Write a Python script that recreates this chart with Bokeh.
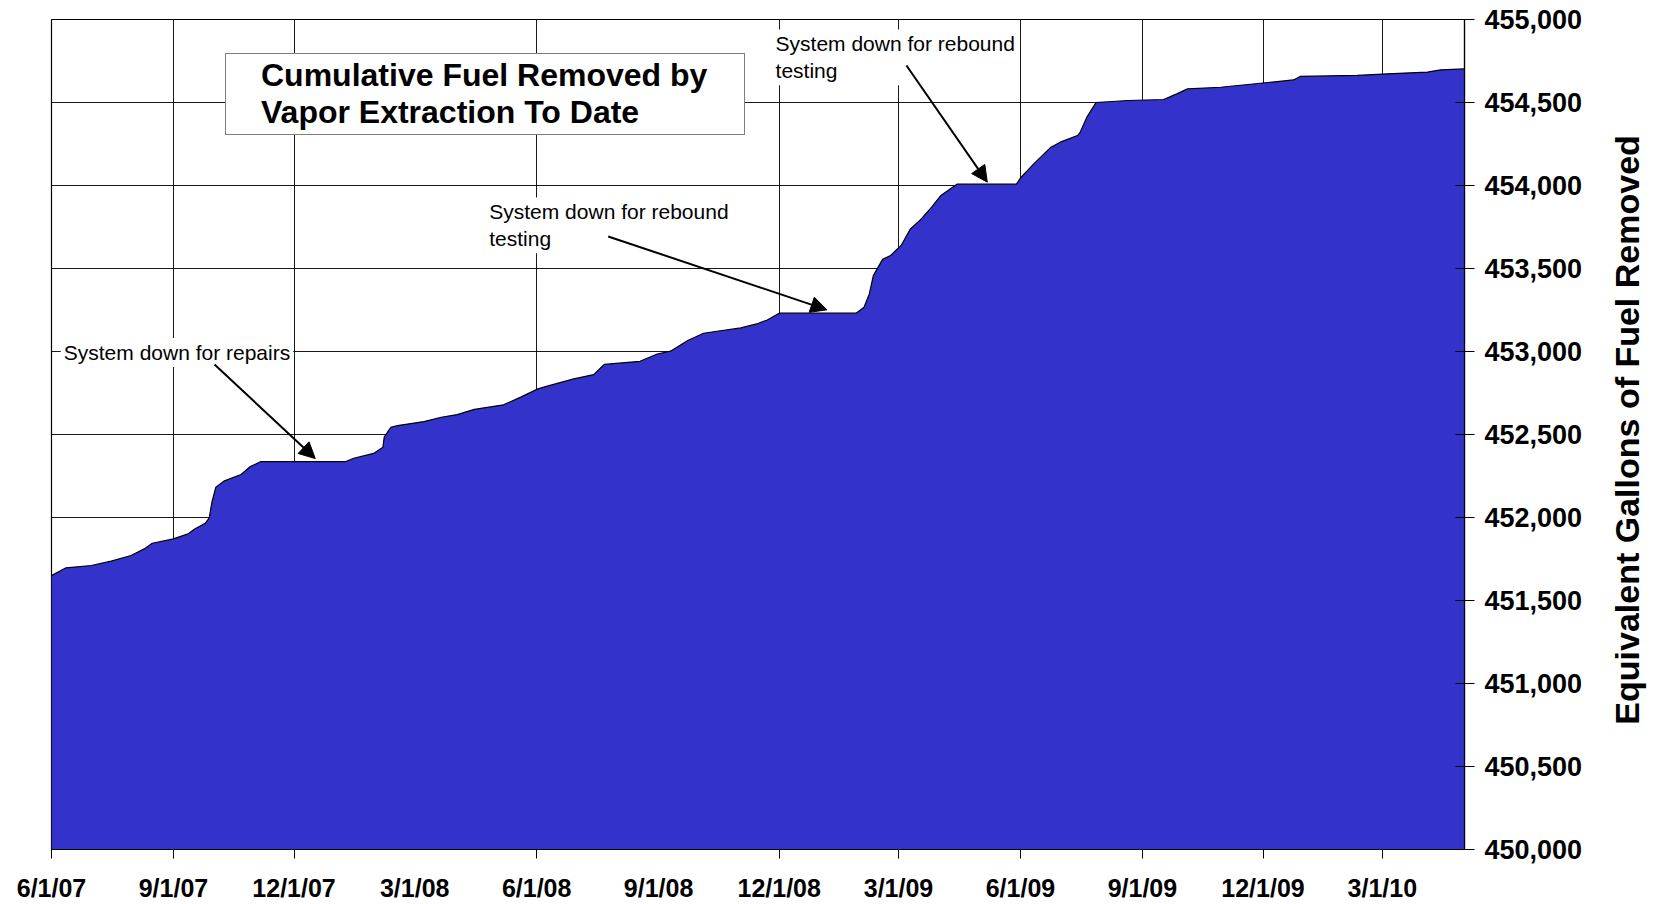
import math
import datetime as dt
import pandas as pd
from bokeh.plotting import figure
from bokeh.layouts import row
from bokeh.core.properties import value
from bokeh.models import (Range1d, FixedTicker, CustomJSTickFormatter, NumeralTickFormatter,
                          Label, Arrow, NormalHead, Legend, LegendItem)
from bokeh.embed import file_html
from bokeh.resources import INLINE

# ---------------- data ----------------
dates = [
    "2007-06-01", "2007-06-12", "2007-07-01", "2007-07-16", "2007-07-31", "2007-08-10",
    "2007-08-16", "2007-09-01", "2007-09-12", "2007-09-17", "2007-09-25", "2007-09-28",
    "2007-09-30", "2007-10-03", "2007-10-09", "2007-10-22", "2007-10-29", "2007-11-06",
    "2008-01-09", "2008-01-15", "2008-01-30", "2008-02-06", "2008-02-07", "2008-02-12",
    "2008-02-17", "2008-03-08", "2008-03-21", "2008-04-02", "2008-04-15", "2008-05-07",
    "2008-05-20", "2008-06-02", "2008-06-09", "2008-06-29", "2008-07-14", "2008-07-22",
    "2008-08-18", "2008-08-31", "2008-09-10", "2008-09-23", "2008-10-05", "2008-10-15",
    "2008-11-02", "2008-11-14", "2008-11-22", "2008-12-01", "2009-01-28", "2009-02-03",
    "2009-02-07", "2009-02-10", "2009-02-17", "2009-02-23", "2009-03-03", "2009-03-10",
    "2009-03-17", "2009-03-26", "2009-04-02", "2009-04-14", "2009-05-29", "2009-06-01",
    "2009-06-11", "2009-06-24", "2009-07-01", "2009-07-14", "2009-07-16", "2009-07-21",
    "2009-07-28", "2009-08-21", "2009-09-17", "2009-09-27", "2009-10-05", "2009-10-30",
    "2009-11-29", "2009-12-24", "2009-12-29", "2010-02-10", "2010-03-05", "2010-04-04",
    "2010-04-14", "2010-05-02",
]
gallons = [
    451650, 451697, 451711, 451737, 451771, 451811,
    451845, 451871, 451901, 451931, 451965, 451998,
    452092, 452183, 452219, 452259, 452307, 452337,
    452337, 452357, 452386, 452423, 452484, 452543,
    452554, 452578, 452604, 452620, 452651, 452679,
    452725, 452775, 452791, 452835, 452861, 452922,
    452941, 452985, 453002, 453066, 453110, 453122,
    453142, 453166, 453190, 453231, 453231, 453266,
    453347, 453457, 453555, 453578, 453639, 453739,
    453789, 453870, 453940, 454008, 454008, 454045,
    454130, 454231, 454261, 454301, 454320, 454410,
    454500, 454512, 454518, 454552, 454582, 454592,
    454616, 454636, 454657, 454663, 454673, 454683,
    454697, 454702,
]
label_dates = ["2007-06-01", "2007-09-01", "2007-12-01", "2008-03-01", "2008-06-01",
               "2008-09-01", "2008-12-01", "2009-03-01", "2009-06-01", "2009-09-01",
               "2009-12-01", "2010-03-01"]
grid_dates = ["2007-06-01", "2007-09-01", "2007-12-01", "2008-06-01", "2008-12-01",
              "2009-03-01", "2009-06-01", "2009-09-01", "2009-12-01", "2010-03-01"]
y_ticks = [450000, 450500, 451000, 451500, 452000, 452500, 453000, 453500, 454000, 454500, 455000]
legend_lines = ["Cumulative Fuel Removed by", "Vapor Extraction To Date"]
y_title = "Equivalent Gallons of Fuel Removed"

notes = [
    ("System down for repairs", "2007-06-08", 452994, "middle"),
    ("System down for rebound\ntesting", "2008-04-24", 453928, "top"),
    ("System down for rebound\ntesting", "2008-11-26", 454940, "top"),
]
arrows = [
    ("2007-10-02", 452922, "2007-12-17", 452355),
    ("2008-07-25", 453693, "2009-01-06", 453251),
    ("2009-03-07", 454723, "2009-05-07", 454020),
]


def ms(s):
    return dt.datetime.strptime(s, "%Y-%m-%d").replace(tzinfo=dt.timezone.utc).timestamp() * 1000


FONT = "Liberation Sans"
FILL = "#3333CC"

x = pd.to_datetime(dates)

p = figure(width=1595, height=904, x_axis_type="datetime", y_axis_location="right",
           output_backend="svg", toolbar_location=None,
           x_range=Range1d(dt.datetime(2007, 6, 1), dt.datetime(2010, 5, 2)),
           y_range=Range1d(450000, 455000),
           min_border_left=51, min_border_top=19, min_border_right=131, min_border_bottom=55)
p.background_fill_color = "white"
p.border_fill_color = "white"
p.outline_line_color = "black"
p.outline_line_width = 1.2

area = p.varea(x=x, y1=450000, y2=gallons, fill_color=FILL)
p.line(x=x, y=gallons, line_color="black", line_width=1.2)

# grids
p.xgrid[0].ticker = FixedTicker(ticks=[ms(d) for d in grid_dates])
p.ygrid[0].ticker = FixedTicker(ticks=y_ticks)
for g in (p.xgrid[0], p.ygrid[0]):
    g.grid_line_color = "black"
    g.grid_line_width = 1
    g.grid_line_alpha = 0.9

# x axis
xa = p.xaxis[0]
xa.ticker = FixedTicker(ticks=[ms(d) for d in label_dates], minor_ticks=[ms(d) for d in grid_dates])
xa.formatter = CustomJSTickFormatter(code="""
const d = new Date(tick);
return (d.getUTCMonth() + 1) + "/" + d.getUTCDate() + "/" + String(d.getUTCFullYear()).slice(2);
""")
xa.major_tick_out = 0
xa.major_tick_in = 0
xa.minor_tick_out = 9
xa.minor_tick_in = 0
xa.minor_tick_line_color = "black"
xa.axis_line_color = "black"
xa.axis_line_width = 1.2
xa.major_label_standoff = 15
xa.major_label_text_font = FONT
xa.major_label_text_font_size = "25px"
xa.major_label_text_font_style = "bold"
xa.major_label_text_color = "black"

# y axis (right)
ya = p.yaxis[0]
ya.ticker = FixedTicker(ticks=y_ticks)
ya.formatter = NumeralTickFormatter(format="0,0")
ya.minor_tick_line_color = None
ya.major_tick_in = 9
ya.major_tick_out = 10
ya.major_tick_line_color = "black"
ya.axis_line_color = "black"
ya.axis_line_width = 1.2
ya.major_label_standoff = 10
ya.major_label_text_font = FONT
ya.major_label_text_font_size = "27px"
ya.major_label_text_font_style = "bold"
ya.major_label_text_color = "black"

# legend (two lines; square only on first)
q1 = p.quad(left=[], right=[], top=[], bottom=[], fill_color=FILL, line_color="black", line_width=1)
q2 = p.quad(left=[], right=[], top=[], bottom=[], fill_alpha=0, line_alpha=0)
legend = Legend(items=[LegendItem(label=legend_lines[0], renderers=[q1]),
                       LegendItem(label=legend_lines[1], renderers=[q2])],
                location=(174, 714))
legend.label_text_font = FONT
legend.label_text_font_size = "32px"
legend.label_text_font_style = "bold"
legend.label_text_color = "black"
legend.glyph_width = 20
legend.glyph_height = 22
legend.label_standoff = 12
legend.label_height = 33
legend.label_width = 480
legend.spacing = 0
legend.padding = 3
legend.margin = 0
legend.border_line_color = "black"
legend.border_line_width = 1
legend.background_fill_color = "white"
legend.background_fill_alpha = 1
p.add_layout(legend)

# annotations
for text, d, v, base in notes:
    p.add_layout(Label(x=ms(d), y=v, text=text, text_font=FONT, text_font_size="21px",
                       text_color="black", text_baseline=base, text_align="left",
                       text_line_height=1.17, background_fill_color="white",
                       padding=3))
for d0, v0, d1, v1 in arrows:
    p.add_layout(Arrow(end=NormalHead(size=16, fill_color="black", line_color="black"),
                       x_start=ms(d0), y_start=v0, x_end=ms(d1), y_end=v1,
                       line_color="black", line_width=2))

# y-axis title panel (reads bottom-to-top), pixel-unit ranges
t = figure(width=59, height=904, output_backend="svg", toolbar_location=None,
           x_range=Range1d(0, 59), y_range=Range1d(0, 904),
           min_border=0, x_axis_type=None, y_axis_type=None)
t.outline_line_color = None
t.xgrid.visible = False
t.ygrid.visible = False
t.background_fill_color = "white"
t.border_fill_color = "white"
t.text(x=[31], y=[457], text=[y_title], angle=math.pi / 2, text_align="center",
       text_baseline="middle", text_font=value(FONT), text_font_size="34px",
       text_font_style="bold", text_color="black")

layout = row(p, t)
open("out.html", "w").write(file_html(layout, INLINE))
